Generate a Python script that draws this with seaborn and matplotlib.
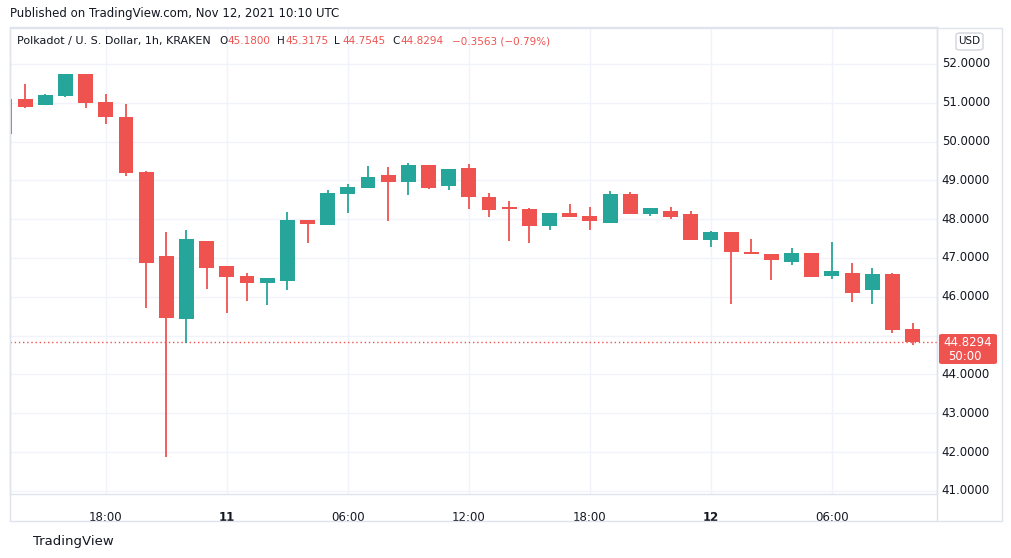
import numpy as np
import pandas as pd
import matplotlib.pyplot as plt
import seaborn as sns
from matplotlib.patches import Rectangle, FancyBboxPatch

# hourly candles, index 0 = Nov 10 13:00 UTC
opens = [50.20, 51.10, 50.95, 51.18, 51.74, 51.02, 50.63, 49.22, 47.05, 45.44,
         47.44, 46.79, 46.54, 46.36, 46.41, 47.98, 47.86, 48.66, 48.79, 49.14,
         48.97, 49.40, 48.86, 49.32, 48.57, 48.29, 48.26, 47.83, 48.16, 48.08,
         47.91, 48.65, 48.12, 48.21, 48.13, 47.47, 47.67, 47.16, 47.11, 46.90,
         47.13, 46.54, 46.61, 46.18, 46.59, 45.18]
highs = [51.10, 51.48, 51.23, 51.74, 51.74, 51.23, 50.97, 49.24, 47.67, 47.72,
         47.44, 46.79, 46.61, 46.49, 48.19, 47.98, 48.75, 48.91, 49.37, 49.35,
         49.45, 49.40, 49.29, 49.42, 48.68, 48.47, 48.29, 48.16, 48.39, 48.31,
         48.73, 48.70, 48.29, 48.31, 48.21, 47.70, 47.67, 47.49, 47.11, 47.26,
         47.13, 47.41, 46.87, 46.74, 46.62, 45.3175]
lows = [50.20, 50.87, 50.93, 51.14, 50.87, 50.46, 49.10, 45.72, 41.88, 44.80,
        46.21, 45.59, 45.90, 45.80, 46.18, 47.39, 47.86, 48.17, 48.79, 47.96,
        48.63, 48.78, 48.76, 48.27, 48.06, 47.45, 47.39, 47.73, 48.06, 47.73,
        47.91, 48.14, 48.09, 48.01, 47.47, 47.27, 45.82, 47.09, 46.44, 46.83,
        46.52, 46.47, 45.87, 45.82, 45.07, 44.7545]
closes = [51.10, 50.89, 51.20, 51.74, 50.98, 50.62, 49.20, 46.88, 45.46, 47.49,
          46.75, 46.52, 46.36, 46.49, 47.98, 47.88, 48.68, 48.83, 49.09, 48.97,
          49.40, 48.81, 49.29, 48.58, 48.24, 48.27, 47.83, 48.16, 48.06, 47.94,
          48.65, 48.14, 48.29, 48.06, 47.47, 47.67, 47.16, 47.09, 46.96, 47.13,
          46.52, 46.67, 46.11, 46.59, 45.15, 44.8294]
tick_pos = [5, 11, 17, 23, 29, 35, 41]
tick_labels = ["18:00", "11", "06:00", "12:00", "18:00", "12", "06:00"]
price_ticks = list(range(41, 53))

GREEN = "#26a69a"
RED = "#ef5350"
GRID = "#f0f3fa"

df = pd.DataFrame({"o": opens, "h": highs, "l": lows, "c": closes})
df["x"] = np.arange(len(df))
df["up"] = df["c"] >= df["o"]
df["color"] = np.where(df["up"], GREEN, RED)

sns.set_theme(style="white")
fig = plt.figure(figsize=(10.12, 5.58), dpi=100)
W, H = 1012, 558
ax = fig.add_axes([10 / W, (H - 494) / H, 927 / W, 467 / H])

# wicks and bodies
ax.vlines(df["x"], df["l"], df["h"], colors=df["color"], linewidth=1.3, zorder=3)
bottoms = df[["o", "c"]].min(axis=1)
heights = (df["c"] - df["o"]).abs().clip(lower=0.04)
ax.bar(df["x"], heights, bottom=bottoms, width=0.74, color=df["color"], linewidth=0, zorder=4)

ax.set_xlim(0.25, 46.21)
ax.set_ylim(40.92, 52.95)
ax.set_xticks(tick_pos)
ax.set_yticks(price_ticks)
ax.grid(True, color=GRID, linewidth=1)
ax.tick_params(length=0, labelbottom=False, labelleft=False)
for s in ax.spines.values():
    s.set_color("#e0e3eb")
    s.set_linewidth(1)

# last price line
last = closes[-1]
ax.axhline(last, color=RED, linestyle=(0, (1, 2)), linewidth=1, zorder=2)

# time axis labels
for p, lab in zip(tick_pos, tick_labels):
    bold = ":" not in lab
    ax.text(p, -0.05, lab, transform=ax.get_xaxis_transform(), ha="center", va="center",
            fontsize=8.5, color="#131722", fontweight="bold" if bold else "normal")

# price axis labels
for p in price_ticks:
    if abs(p - last) < 0.5:
        continue
    ax.text(1.005, p, f"{p:.4f}", transform=ax.get_yaxis_transform(), ha="left",
            va="center", fontsize=8.5, color="#131722")

# last price tag
tag = FancyBboxPatch((939 / W, (H - 364) / H), 58 / W, 30 / H, boxstyle="round,pad=0,rounding_size=0.003",
                     transform=fig.transFigure, facecolor=RED, edgecolor="none")
fig.patches.append(tag)
fig.text(968 / W, (H - 342) / H, f"{last:.4f}", ha="center", va="center", color="white", fontsize=8.5)
fig.text(948 / W, (H - 356) / H, "50:00", ha="left", va="center", color="white", fontsize=8.5)

# outer frame
fig.patches.append(Rectangle((10 / W, (H - 521) / H), 992 / W, 493 / H, transform=fig.transFigure,
                             fill=False, edgecolor="#e0e3eb", linewidth=1))
fig.add_artist(plt.Line2D([937 / W, 937 / W], [(H - 521) / H, (H - 28) / H], color="#e0e3eb", lw=1))

# header texts
fig.text(10 / W, (H - 14) / H, "Published on TradingView.com, Nov 12, 2021 10:10 UTC",
         ha="left", va="center", fontsize=8.5, color="#131722")
fig.text(17 / W, (H - 41) / H, "Polkadot / U. S. Dollar, 1h, KRAKEN", ha="left", va="center",
         fontsize=8, color="#131722")
for lab, val, xl in [("O", "45.1800", 219), ("H", "45.3175", 277), ("L", "44.7545", 334), ("C", "44.8294", 392)]:
    fig.text(xl / W, (H - 41) / H, lab, ha="left", va="center", fontsize=7.5, color="#131722")
    fig.text((xl + 8) / W, (H - 41) / H, val, ha="left", va="center", fontsize=7.5, color=RED)
fig.text(452 / W, (H - 41) / H, "\u22120.3563 (\u22120.79%)", ha="left", va="center", fontsize=7.5, color=RED)

# USD badge
fig.patches.append(FancyBboxPatch((956 / W, (H - 50) / H), 27 / W, 17 / H,
                                  boxstyle="round,pad=0,rounding_size=0.004",
                                  transform=fig.transFigure, facecolor="white", edgecolor="#d1d4dc"))
fig.text(969.5 / W, (H - 41.5) / H, "USD", ha="center", va="center", fontsize=7.5, color="#131722")

# footer
fig.text(33 / W, (H - 541) / H, "TradingView", ha="left", va="center", fontsize=9.5, color="#131722")

fig.savefig("out.png", dpi=100, facecolor="white")
